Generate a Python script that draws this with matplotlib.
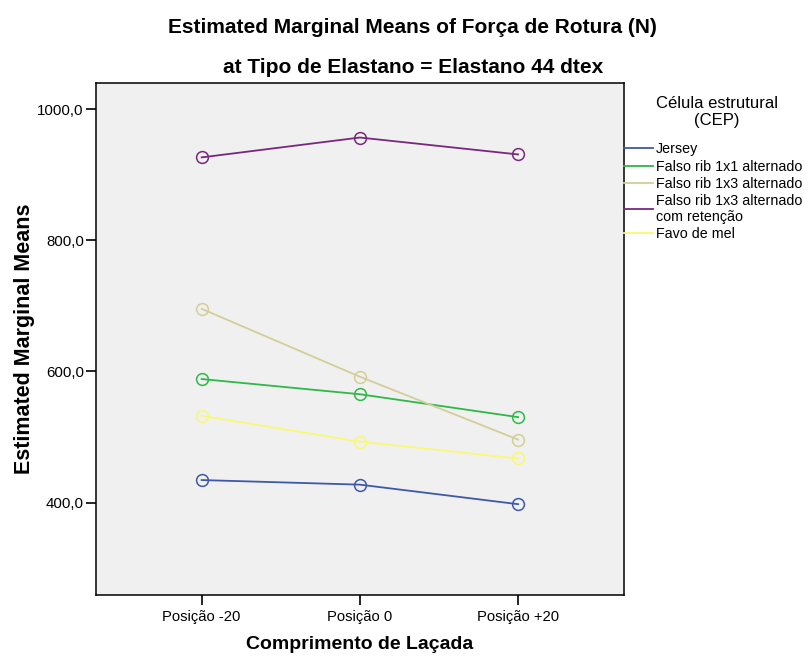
import matplotlib.pyplot as plt

plt.rcParams['font.family'] = ['Liberation Sans', 'DejaVu Sans']

positions = ['Posição -20', 'Posição 0', 'Posição +20']
series_names = ['Jersey', 'Falso rib 1x1 alternado', 'Falso rib 1x3 alternado',
                'Falso rib 1x3 alternado\ncom retenção', 'Favo de mel']
jersey = [434.3, 427.3, 397.5]
rib_1x1 = [588.4, 565.2, 530.3]
rib_1x3 = [695.5, 591.9, 496.0]
rib_1x3_ret = [926.5, 956.8, 931.0]
favo_mel = [532.3, 492.9, 467.2]
colors = ['#3E58AC', '#2EB848', '#D3CE97', '#79287D', '#FBF873']

yticks = [400, 600, 800, 1000]
ytick_labels = ['400,0', '600,0', '800,0', '1000,0']

fig = plt.figure(figsize=(8.08, 6.57), dpi=100)
ax = fig.add_axes([0.1184, 0.0944, 0.654, 0.7793])
ax.set_facecolor('#F0F0F0')

x = range(len(positions))
for vals, name, c in zip([jersey, rib_1x1, rib_1x3, rib_1x3_ret, favo_mel], series_names, colors):
    ax.plot(x, vals, color=c, lw=1.3, label=name)
    ax.plot(x, vals, ls='none', marker='o', ms=8.5, mfc='none', mec=c, mew=1.1)

ax.set_xlim(-0.67, 2.67)
ax.set_ylim(259, 1040)
ax.set_xticks(list(x))
ax.set_xticklabels(positions, fontsize=10.6)
ax.set_yticks(yticks)
ax.set_yticklabels(ytick_labels, fontsize=10.8)
ax.tick_params(direction='out', length=7, width=1.2, colors='black')
ax.tick_params(axis='y', pad=1.5)
for s in ax.spines.values():
    s.set_linewidth(1.1)

ax.set_xlabel('Comprimento de Laçada', fontsize=14, fontweight='bold', labelpad=9)
ax.set_ylabel('Estimated Marginal Means', fontsize=15.5, fontweight='bold', labelpad=2)

fig.text(0.511, 0.958, 'Estimated Marginal Means of Força de Rotura (N)',
         ha='center', va='center', fontsize=15, fontweight='bold')
fig.text(0.511, 0.898, 'at Tipo de Elastano = Elastano 44 dtex',
         ha='center', va='center', fontsize=15, fontweight='bold')

fig.text(717 / 808, 1 - 112 / 657, 'Célula estrutural\n(CEP)', ha='center', va='center',
         fontsize=12, linespacing=1.25, multialignment='center')

leg = ax.legend(loc='upper left', bbox_to_anchor=(1.0, 0.884), frameon=False,
                fontsize=10.3, handlelength=2.0, handletextpad=0.2, borderaxespad=0,
                borderpad=0, labelspacing=0.22)

fig.savefig('out.png', dpi=100)
